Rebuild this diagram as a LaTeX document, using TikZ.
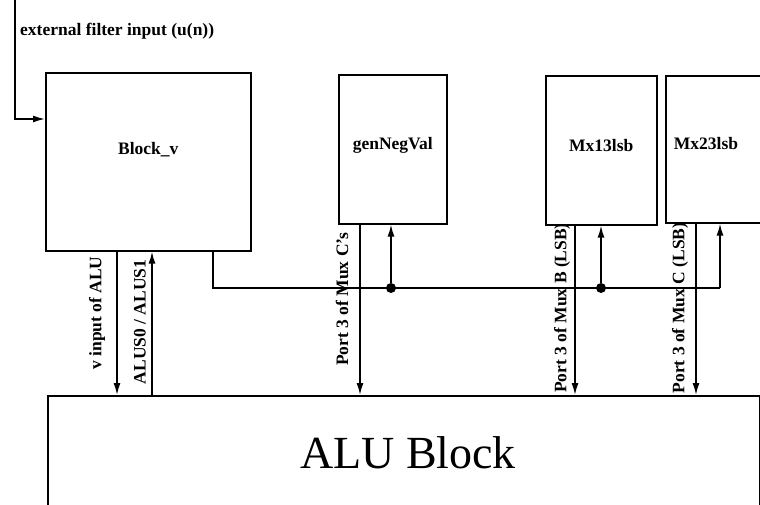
\documentclass[tikz,border=0pt]{standalone}
\usepackage{fontspec}
\setmainfont{Liberation Serif}
\usetikzlibrary{arrows.meta,positioning}

\tikzset{
  blockbox/.style={draw,line width=1.6pt,anchor=north west,inner sep=0pt},
  sig/.style={line width=1.6pt},
  tag/.style={font=\fontsize{17.5}{19}\selectfont\bfseries,inner sep=0pt},
  vtag/.style={tag,rotate=90},
  alutag/.style={font=\fontsize{46}{50}\selectfont,inner sep=0pt},
  jdot/.style={circle,fill,inner sep=0pt,minimum size=10pt}
}

\begin{document}
\begin{tikzpicture}[x=1pt,y=-1pt,>={Latex[length=12pt,width=7pt]}]
  \useasboundingbox (0,0) rectangle (760,505);
  \clip (0,0) rectangle (760,505);

  % blocks
  \node[blockbox,minimum width=205pt,minimum height=178pt] (bv) at (45,72) {};
  \node[blockbox,minimum width=108pt,minimum height=149pt] (gnv) at (338,74) {};
  \node[blockbox,minimum width=111pt,minimum height=149pt] (mx1) at (545,75) {};
  \node[blockbox,minimum width=140pt,minimum height=147pt] (mx2) at (665,75) {};
  \node[blockbox,minimum width=712pt,minimum height=140pt] (alu) at (47,395) {};

  \node[tag] (bvt) at ([yshift=12pt]bv.center) {Block\_v};
  \node[tag] (gnvt) at ([yshift=4pt]gnv.center) {genNegVal};
  \node[tag] (mx1t) at ([yshift=5pt]mx1.center) {Mx13lsb};
  \node[tag] (mx2t) at ([shift={(41,69)}]mx2.north west) {Mx23lsb};
  \node[alutag] (alut) at (408,453) {ALU Block};

  % external input
  \coordinate (ext) at (15,0);
  \draw[sig,->] (ext) |- ([yshift=-47pt]bv.north west);
  \node[tag,anchor=west] (extt) at (20,31) {external filter input (u(n))};

  % Block_v <-> ALU
  \draw[sig,->] (117,0 |- bv.south) -- (117,0 |- alu.north);
  \draw[sig,->] (152,0 |- alu.north) -- (152,0 |- bv.south);
  \node[vtag] (vint) at (97,313) {v input of ALU};
  \node[vtag] (alust) at (140,322) {ALUS0 / ALUS1};

  % outputs into the ALU
  \draw[sig,->] (360,0 |- gnv.south) -- (360,0 |- alu.north);
  \draw[sig,->] (575,0 |- mx1.south) -- (575,0 |- alu.north);
  \draw[sig,->] (696,0 |- mx2.south) -- (696,0 |- alu.north);
  \node[vtag] (p3c) at (342,299) {Port 3 of Mux C's};
  \node[vtag] (p3b) at (562,308) {Port 3 of Mux B (LSB)};
  \node[vtag] (p3cl) at (680,308) {Port 3 of Mux C (LSB)};

  % bus from Block_v
  \coordinate (busL) at (213,288);
  \coordinate (busR) at (720,288);
  \draw[sig] (busL |- bv.south) -- (busL) -- (busR);
  \draw[sig,->] (busR) -- (busR |- mx2.south);
  \node[jdot] (j1) at (391,288) {};
  \node[jdot] (j2) at (601,288) {};
  \draw[sig,->] (j1) -- (j1 |- gnv.south);
  \draw[sig,->] (j2) -- (j2 |- mx1.south);
\end{tikzpicture}
\end{document}
